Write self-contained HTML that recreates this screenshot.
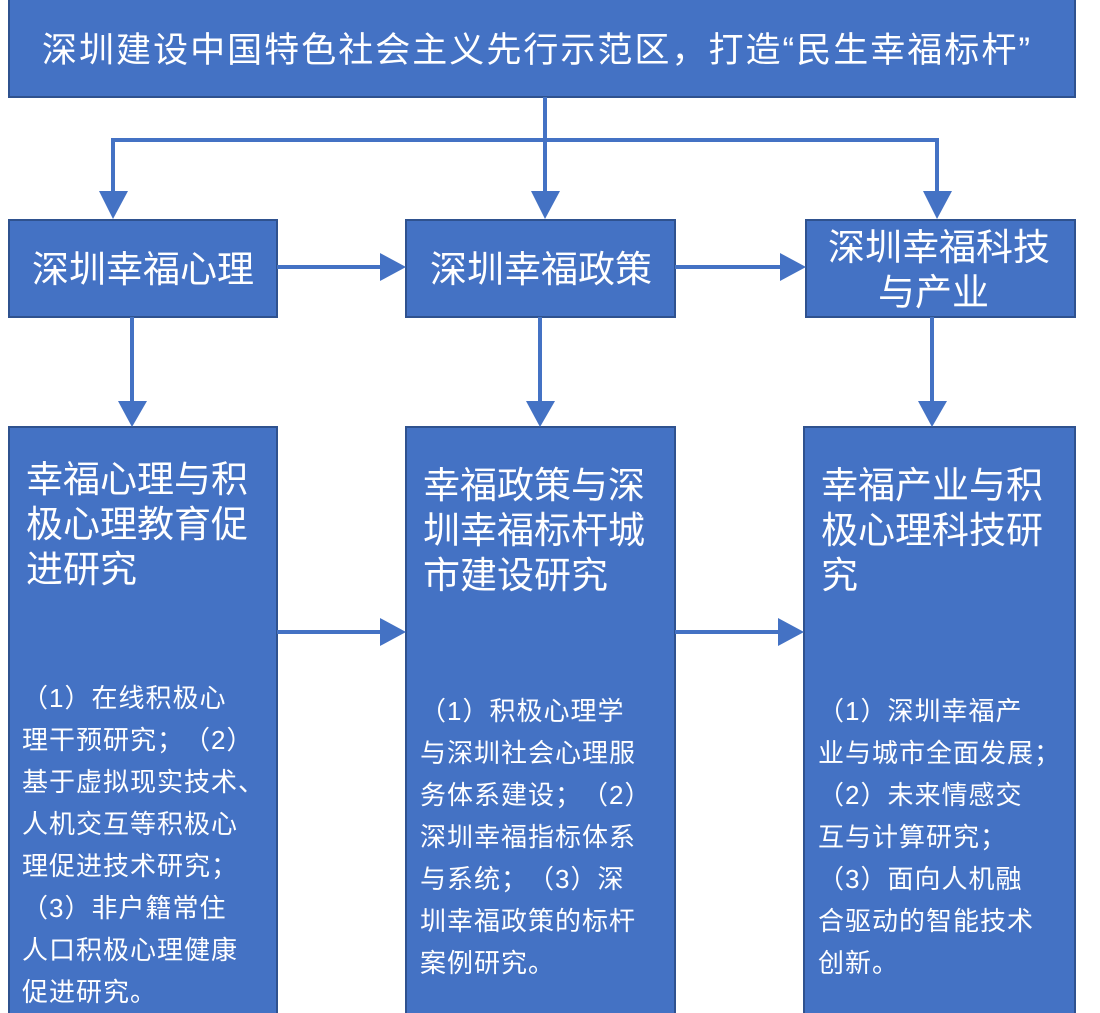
<!DOCTYPE html>
<html><head><meta charset="utf-8"><style>
body{margin:0;background:#fff}
svg{display:block}
text{font-family:"Liberation Sans","Noto Sans CJK SC",sans-serif;fill:#fff;text-spacing-trim:space-all;font-kerning:none}
</style></head><body>
<svg width="1100" height="1013" viewBox="0 0 1100 1013">
<g fill="#4472C4" stroke="#2F528F" stroke-width="2">
<rect x="9" y="-2" width="1066" height="99"/>
<rect x="9" y="220" width="268" height="97"/>
<rect x="406" y="220" width="269" height="97"/>
<rect x="806" y="220" width="269" height="97"/>
<rect x="9" y="427" width="268" height="590"/>
<rect x="406" y="427" width="269" height="590"/>
<rect x="804" y="427" width="271" height="590"/>
</g>
<g stroke="#4472C4" stroke-width="4" fill="none">
<path d="M545 97V195"/>
<path d="M113 195V140H937V195"/>
<path d="M277 267H382"/><path d="M675 267H782"/>
<path d="M132 317V403"/><path d="M540 317V403"/><path d="M932 317V403"/>
<path d="M277 632H382"/><path d="M675 632H780"/>
</g>
<g fill="#4472C4">
<path d="M99 191H128L113 219Z"/><path d="M531 191H560L545 219Z"/><path d="M923 191H952L937 219Z"/>
<path d="M380 253V281L406 267Z"/><path d="M780 253V281L806 267Z"/>
<path d="M118 401H147L132 427Z"/><path d="M526 401H555L540 427Z"/><path d="M918 401H947L932 427Z"/>
<path d="M380 618V646L406 632Z"/><path d="M778 618V646L804 632Z"/>
</g>
<text x="42" y="62" font-size="35" textLength="988" lengthAdjust="spacing">深圳建设中国特色社会主义先行示范区，打造“民生幸福标杆”</text>
<text x="32" y="282" font-size="37">深圳幸福心理</text>
<text x="430" y="282" font-size="37">深圳幸福政策</text>
<text x="828" y="260" font-size="37">深圳幸福科技</text>
<text x="878" y="305" font-size="37">与产业</text>
<g font-size="37">
<text x="26" y="492">幸福心理与积</text><text x="26" y="537">极心理教育促</text><text x="26" y="582">进研究</text>
<text x="423" y="498">幸福政策与深</text><text x="423" y="543">圳幸福标杆城</text><text x="423" y="588">市建设研究</text>
<text x="821" y="498">幸福产业与积</text><text x="821" y="543">极心理科技研</text><text x="821" y="588">究</text>
</g>
<g font-size="26" letter-spacing="1">
<text x="22" y="707">（1）在线积极心</text><text x="22" y="749">理干预研究；（2）</text><text x="22" y="791">基于虚拟现实技术、</text><text x="22" y="833">人机交互等积极心</text><text x="22" y="875">理促进技术研究；</text><text x="22" y="917">（3）非户籍常住</text><text x="22" y="959">人口积极心理健康</text><text x="22" y="1001">促进研究。</text>
<text x="420" y="720">（1）积极心理学</text><text x="420" y="762">与深圳社会心理服</text><text x="420" y="804">务体系建设；（2）</text><text x="420" y="846">深圳幸福指标体系</text><text x="420" y="888">与系统；（3）深</text><text x="420" y="930">圳幸福政策的标杆</text><text x="420" y="972">案例研究。</text>
<text x="818" y="720">（1）深圳幸福产</text><text x="818" y="762">业与城市全面发展；</text><text x="818" y="804">（2）未来情感交</text><text x="818" y="846">互与计算研究；</text><text x="818" y="888">（3）面向人机融</text><text x="818" y="930">合驱动的智能技术</text><text x="818" y="972">创新。</text>
</g>
</svg>
</body></html>
